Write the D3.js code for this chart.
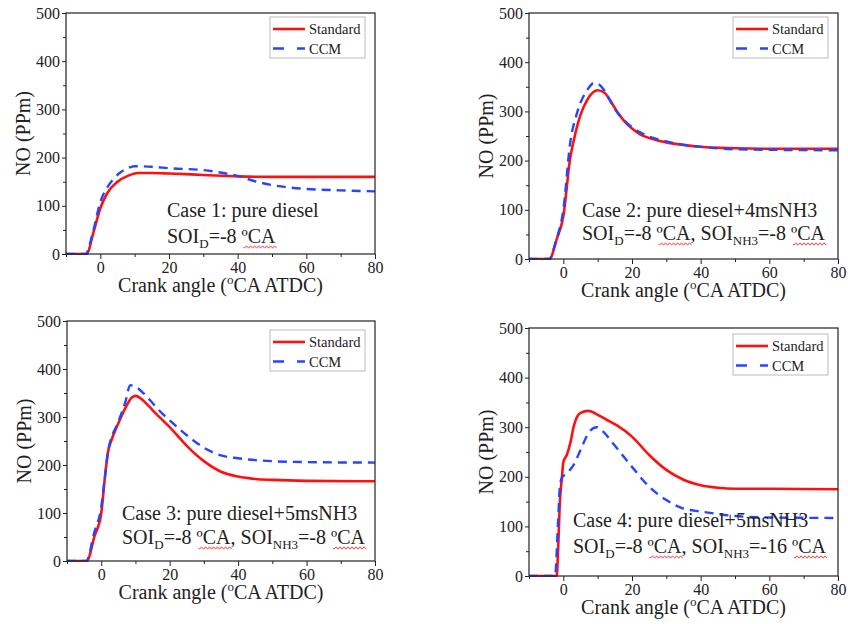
<!DOCTYPE html>
<html>
<head>
<meta charset="utf-8">
<script src="https://cdn.jsdelivr.net/npm/d3@7"></script>
<style>
  body { margin: 0; background: #fff; }
  svg, svg text { font-family: 'Liberation Serif', 'Times New Roman', Times, 'DejaVu Serif', serif !important; }
</style>
</head>
<body>
<svg width="848" height="624"></svg>
<script>
// crank angle (deg ATDC) and NO (ppm)
const case1StdAngle = [-10, -4, -2, 0, 2, 5, 8, 11, 15, 20, 30, 40, 50, 60, 70, 80]
const case1StdNO = [0, 0, 45, 95, 126, 150, 162, 168, 168, 167, 164, 161, 160, 160, 160, 160]
const case1CcmAngle = [-10, -4.3, -2, 0, 2, 4, 6, 8, 10, 15, 20, 30, 35, 40, 45, 50, 55, 60, 70, 80]
const case1CcmNO = [0, 0, 50, 108, 138, 157, 170, 178, 182, 181, 178, 174, 169, 162, 151, 143, 138, 135, 132, 130]

const case2StdAngle = [-10, -4, -2, 0, 2, 3, 5, 7, 10, 12, 14, 16, 18, 20, 22.5, 25, 27.5, 30, 35, 40, 50, 60, 80]
const case2StdNO = [0, 0, 39, 87, 205, 240, 293, 324, 343, 338, 318, 296, 278, 265, 253, 246, 241, 237, 232, 228, 225, 224, 224]
const case2CcmAngle = [-10, -4.2, -2, 0, 2, 4, 7, 9, 11, 13, 15, 17.5, 20, 22.5, 25, 30, 35, 40, 50, 60, 80]
const case2CcmNO = [0, 0, 40, 100, 236, 297, 344, 358, 351, 330, 305, 283, 268, 257, 249, 239, 232, 228, 223, 222, 221]

const case3StdAngle = [-10, -4.2, -2, 0, 1, 2, 3, 5, 7, 9, 10, 12, 14, 16, 18, 20, 25, 30, 35, 40, 45, 50, 60, 80]
const case3StdNO = [0, 0, 51, 99, 169, 228, 252, 287, 318, 341, 344, 336, 322, 307, 293, 279, 240, 208, 186, 176, 171, 169, 167, 166]
const case3CcmAngle = [-10, -4.4, -2, 0, 1, 2, 5, 7, 8.5, 10, 12, 14, 16, 18, 20, 25, 30, 35, 40, 50, 60, 80]
const case3CcmNO = [0, 0, 60, 112, 170, 228, 290, 330, 366, 363, 352, 337, 321, 306, 293, 262, 236, 220, 214, 208, 206, 205]

const case4StdAngle = [-10, -1.9, -1.6, -1, -0.4, 0, 1, 2, 3, 4, 5, 7.3, 10, 12.6, 15.5, 20, 25, 30, 35, 40, 45, 50, 60, 80]
const case4StdNO = [0, 0, 40, 150, 200, 230, 244, 267, 301, 321, 329, 333, 325, 315, 304, 281, 244, 214, 194, 183, 178, 176, 176, 175]
const case4CcmAngle = [-10, -2.4, -1.6, -1, -0.5, 1, 3, 5, 7.3, 9.7, 11.6, 14.5, 20, 25, 30, 35, 40, 45, 50, 60, 80]
const case4CcmNO = [0, 0, 100, 180, 197, 207, 224, 254, 288, 300, 291, 267, 220, 180, 153, 136, 130, 125, 121, 118, 117]

const seriesNames = ['Standard', 'CCM']
const caseTitles = [
    'Case 1: pure diesel',
    'Case 2: pure diesel+4msNH3',
    'Case 3: pure diesel+5msNH3',
    'Case 4: pure diesel+5msNH3'
]
// second line pieces: [text, kind] kind: n normal, s subscript, w wavy-underlined
const caseSoi = [
    [['SOI', 'n'], ['D', 's'], ['=-8 ', 'n'], ['ºCA', 'w']],
    [['SOI', 'n'], ['D', 's'], ['=-8 ', 'n'], ['ºCA', 'w'], [', SOI', 'n'], ['NH3', 's'], ['=-8 ', 'n'], ['ºCA', 'w']],
    [['SOI', 'n'], ['D', 's'], ['=-8 ', 'n'], ['ºCA', 'w'], [', SOI', 'n'], ['NH3', 's'], ['=-8 ', 'n'], ['ºCA', 'w']],
    [['SOI', 'n'], ['D', 's'], ['=-8 ', 'n'], ['ºCA', 'w'], [', SOI', 'n'], ['NH3', 's'], ['=-16 ', 'n'], ['ºCA', 'w']]
]
const xMajor = [0, 20, 40, 60, 80]
const xMinor = [-10, 10, 30, 50, 70]
const yMajor = [0, 100, 200, 300, 400, 500]
const yMinor = [50, 150, 250, 350, 450]

const data = [
    [case1StdAngle, case1StdNO, case1CcmAngle, case1CcmNO],
    [case2StdAngle, case2StdNO, case2CcmAngle, case2CcmNO],
    [case3StdAngle, case3StdNO, case3CcmAngle, case3CcmNO],
    [case4StdAngle, case4StdNO, case4CcmAngle, case4CcmNO]
]

// frame of each panel on the page
const panels = [
    { left: 66, right: 375, top: 13, bottom: 254, legTop: 4, textX: 101, line1: -37, line2: -11 },
    { left: 529, right: 838, top: 13, bottom: 259, legTop: 4, textX: 53, line1: -42, line2: -19 },
    { left: 67, right: 375, top: 321, bottom: 561, legTop: 9, textX: 55, line1: -41, line2: -17 },
    { left: 529, right: 838, top: 328, bottom: 576, legTop: 6, textX: 44, line1: -49, line2: -23 }
]

const red = '#ff1010',
    blue = '#2645ff'
const serif = "'Liberation Serif', 'Times New Roman', Times, 'DejaVu Serif', serif"
const svg = d3.select('svg').attr('font-family', serif)

function wavy(x0, x1, y) {
    let d = `M${x0},${y}`
    for (let x = x0; x < x1; x += 2) d += `L${x + 1},${y + (((x - x0) / 2) % 2 ? -1.2 : 1.2)}`
    return d
}

panels.forEach((p, i) => {
    const w = p.right - p.left,
        h = p.bottom - p.top
    const g = svg.append('g').attr('transform', `translate(${p.left},${p.top})`)
    const x = d3.scaleLinear().domain([-10, 80]).range([0, w])
    const y = d3.scaleLinear().domain([0, 500]).range([h, 0])

    const xa = g.append('g').attr('transform', `translate(0,${h})`)
    xa.call(d3.axisBottom(x).tickValues(xMinor).tickSize(3).tickSizeOuter(0).tickFormat(''))
    xa.append('g').call(d3.axisBottom(x).tickValues(xMajor).tickSize(5).tickSizeOuter(0).tickPadding(3))
    const ya = g.append('g')
    ya.call(d3.axisLeft(y).tickValues(yMinor).tickSize(3).tickSizeOuter(0).tickFormat(''))
    ya.append('g').call(d3.axisLeft(y).tickValues(yMajor).tickSize(4).tickSizeOuter(0).tickPadding(2))
    g.selectAll('g').attr('font-family', serif)
    g.selectAll('.tick text')
        .attr('font-size', 16)
        .attr('fill', '#222')
    g.selectAll('.tick line').attr('stroke', '#222').attr('stroke-width', 1)
    g.selectAll('.domain').remove()

    g.append('clipPath').attr('id', `clip${i}`)
        .append('rect').attr('width', w).attr('height', h + 1)

    const line = d3.line()
        .x((d) => x(d[0]))
        .y((d) => y(d[1]))
        .curve(d3.curveMonotoneX)
    const [sx, sy, cx, cy] = data[i]
    g.append('path')
        .attr('clip-path', `url(#clip${i})`)
        .attr('fill', 'none')
        .attr('stroke', red)
        .attr('stroke-width', 2.6)
        .attr('d', line(sx.map((a, k) => [a, sy[k]])))
    g.append('path')
        .attr('clip-path', `url(#clip${i})`)
        .attr('fill', 'none')
        .attr('stroke', blue)
        .attr('stroke-width', 2.4)
        .attr('stroke-dasharray', '9,6')
        .attr('d', line(cx.map((a, k) => [a, cy[k]])))

    g.append('rect')
        .attr('width', w)
        .attr('height', h)
        .attr('fill', 'none')
        .attr('stroke', '#222')
        .attr('stroke-width', 1.2)

    // legend
    const lg = g.append('g').attr('transform', `translate(${w - 105},${p.legTop})`)
    lg.append('rect')
        .attr('width', 95)
        .attr('height', 41)
        .attr('fill', '#fff')
        .attr('stroke', '#bbb')
        .attr('stroke-width', 1)
    seriesNames.forEach((name, k) => {
        lg.append('line')
            .attr('x1', 3)
            .attr('x2', 35)
            .attr('y1', 12 + k * 19.5)
            .attr('y2', 12 + k * 19.5)
            .attr('stroke', k ? blue : red)
            .attr('stroke-width', k ? 2.4 : 2.6)
            .attr('stroke-dasharray', k ? '11,13' : null)
        lg.append('text')
            .attr('x', 39)
            .attr('y', 17 + k * 19.5)
            .attr('font-size', 14.5)
            .attr('fill', '#222')
            .text(name)
    })

    // case annotation
    g.append('text')
        .attr('x', p.textX)
        .attr('y', h + p.line1)
        .attr('font-size', 20)
        .attr('fill', '#222')
        .text(caseTitles[i])
    const t2 = g.append('text')
        .attr('x', p.textX)
        .attr('y', h + p.line2)
        .attr('font-size', 20)
        .attr('fill', '#222')
    caseSoi[i].forEach(([txt, kind], k) => {
        const ts = t2.append('tspan').text(txt).classed('wv', kind === 'w')
        if (kind === 's') ts.attr('font-size', 13).attr('dy', 5)
        else if (k > 0 && caseSoi[i][k - 1][1] === 's') ts.attr('dy', -5)
    })
    t2.selectAll('tspan.wv').each(function () {
        const b = this.getBBox()
        g.append('path')
            .attr('fill', 'none')
            .attr('stroke', '#e33')
            .attr('stroke-width', 0.9)
            .attr('d', wavy(b.x + 2, b.x + b.width, h + p.line2 + 4))
    })

    // axis titles
    const xt = g.append('text')
        .attr('x', w / 2)
        .attr('y', h + 38)
        .attr('text-anchor', 'middle')
        .attr('font-size', 20)
        .attr('fill', '#222')
    xt.append('tspan').text('Crank angle (')
    xt.append('tspan').text('o').attr('font-size', 13).attr('dy', -8)
    xt.append('tspan').text('CA ATDC)').attr('dy', 8)
    g.append('text')
        .attr('transform', `translate(-36,${h / 2}) rotate(-90)`)
        .attr('text-anchor', 'middle')
        .attr('font-size', 20)
        .attr('fill', '#222')
        .text('NO (PPm)')
})
</script>
</body>
</html>
